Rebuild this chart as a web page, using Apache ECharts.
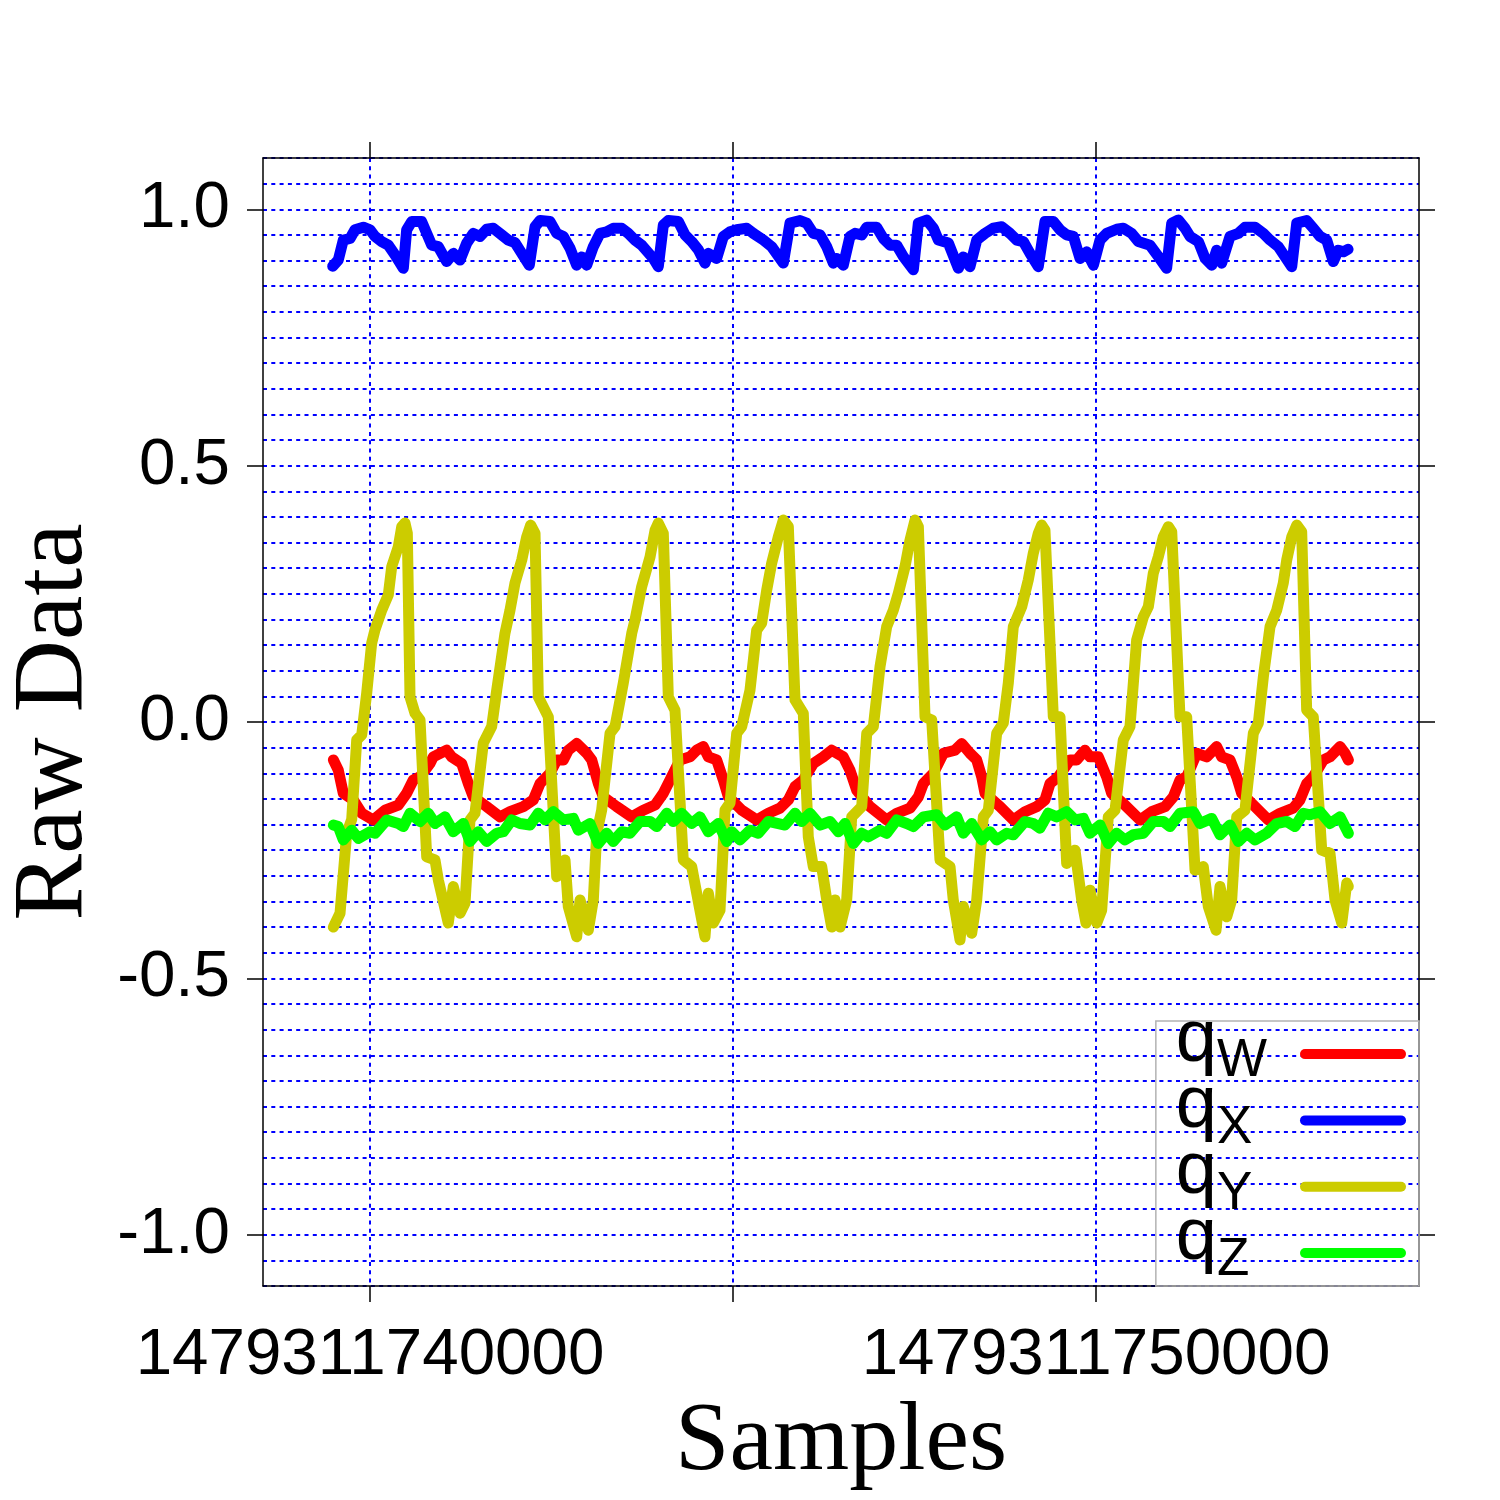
<!DOCTYPE html>
<html><head><meta charset="utf-8">
<script src="https://cdn.jsdelivr.net/npm/echarts@6/dist/echarts.min.js"></script>
<style>html,body{margin:0;padding:0;background:#fff}#c{width:1500px;height:1500px}</style>
</head><body><div id="c"></div>
<script>
// time base (ms) and per-series sample times (ms offsets from T0)
const T0 = 1479311740000;
const X_MIN = 1479311738526;
const X_MAX = 1479311754449;
const xTickValues = [1479311740000, 1479311745000, 1479311750000];
const xLabelValues = [1479311740000, 1479311750000];
const xLabelTexts = ['1479311740000', '1479311750000'];
const yTickValues = [-1.0, -0.5, 0.0, 0.5, 1.0];
const yLabelTexts = ['-1.0', '-0.5', '0.0', '0.5', '1.0'];

const seriesNames = ['qW', 'qX', 'qY', 'qZ'];
const legendMain = ['q', 'q', 'q', 'q'];
const legendSub = ['W', 'X', 'Y', 'Z'];
const seriesColors = ['#ff0000', '#0000ff', '#cccc00', '#00ff00'];

const qwT = [-505,-437,-368,-230,-114,45,207,390,505,596,
 689,826,872,1056,1125,1263,1354,1423,1607,1791,
 1928,2112,2249,2342,2479,2572,2663,2731,2847,2985,
 3054,3145,3214,3398,3605,3764,3926,4040,4132,4270,
 4408,4500,4591,4660,4775,4867,4936,5120,5326,5486,
 5647,5762,5854,5968,6106,6244,6359,6519,6611,6704,
 6887,7117,7254,7438,7553,7622,7760,7898,8058,8150,
 8264,8357,8426,8471,8678,8861,9022,9183,9297,9366,
 9481,9642,9734,9848,9917,10032,10147,10216,10376,10606,
 10767,10951,11065,11157,11249,11387,11525,11662,11731,11846,
 11938,12007,12190,12373,12534,12717,12809,12902,12993,13131,
 13223,13361,13430,13476];
const qwV = [-0.074,-0.094,-0.139,-0.152,-0.178,-0.191,-0.172,-0.162,-0.139,-0.113,
 -0.107,-0.081,-0.068,-0.055,-0.068,-0.081,-0.120,-0.146,-0.165,-0.185,
 -0.175,-0.165,-0.152,-0.120,-0.100,-0.074,-0.074,-0.055,-0.042,-0.061,
 -0.074,-0.120,-0.146,-0.165,-0.185,-0.172,-0.162,-0.139,-0.113,-0.074,
 -0.068,-0.055,-0.048,-0.068,-0.074,-0.113,-0.146,-0.172,-0.191,-0.178,
 -0.168,-0.152,-0.126,-0.113,-0.081,-0.068,-0.055,-0.068,-0.094,-0.133,
 -0.165,-0.191,-0.178,-0.168,-0.146,-0.120,-0.100,-0.061,-0.055,-0.042,
 -0.061,-0.074,-0.107,-0.139,-0.165,-0.191,-0.175,-0.165,-0.152,-0.120,
 -0.107,-0.074,-0.074,-0.055,-0.068,-0.068,-0.107,-0.139,-0.159,-0.191,
 -0.175,-0.165,-0.146,-0.113,-0.107,-0.061,-0.068,-0.048,-0.068,-0.074,
 -0.107,-0.139,-0.165,-0.191,-0.178,-0.168,-0.152,-0.120,-0.107,-0.074,
 -0.068,-0.048,-0.061,-0.074];

const qxT = [-514,-437,-368,-275,-207,-92,0,69,161,252,
 344,459,505,574,712,781,850,941,1056,1147,
 1240,1332,1423,1515,1607,1698,1814,1905,1997,2090,
 2194,2273,2342,2479,2572,2663,2755,2847,2916,2985,
 3076,3168,3260,3351,3467,3558,3650,3742,3902,3971,
 4040,4109,4247,4339,4431,4522,4614,4660,4775,4867,
 4959,5051,5189,5280,5418,5533,5693,5785,5923,6015,
 6106,6199,6291,6382,6428,6519,6611,6681,6773,6842,
 6979,7071,7163,7254,7346,7484,7553,7668,7760,7829,
 7967,8104,8172,8264,8357,8471,8585,8701,8815,8908,
 8999,9091,9205,9297,9412,9504,9596,9688,9780,9872,
 9964,10055,10147,10285,10376,10491,10583,10744,10858,10973,
 11043,11134,11226,11295,11410,11503,11594,11662,11731,11846,
 11961,12052,12190,12305,12397,12512,12696,12765,12902,12993,
 13086,13178,13269,13338,13407,13472];
const qxV = [0.889,0.901,0.940,0.943,0.960,0.965,0.960,0.947,0.937,0.930,
 0.911,0.885,0.960,0.976,0.976,0.953,0.930,0.927,0.898,0.914,
 0.901,0.934,0.953,0.947,0.961,0.963,0.950,0.940,0.935,0.914,
 0.891,0.966,0.978,0.976,0.953,0.947,0.924,0.891,0.907,0.891,
 0.927,0.953,0.956,0.963,0.963,0.953,0.940,0.930,0.904,0.888,
 0.969,0.978,0.976,0.950,0.937,0.921,0.895,0.914,0.904,0.947,
 0.956,0.960,0.963,0.953,0.940,0.927,0.895,0.973,0.978,0.973,
 0.953,0.950,0.927,0.895,0.904,0.891,0.947,0.953,0.950,0.965,
 0.965,0.943,0.930,0.930,0.908,0.882,0.973,0.979,0.963,0.940,
 0.934,0.885,0.907,0.888,0.940,0.953,0.963,0.966,0.953,0.940,
 0.937,0.914,0.888,0.976,0.976,0.960,0.950,0.947,0.904,0.917,
 0.891,0.940,0.953,0.961,0.963,0.953,0.937,0.930,0.908,0.885,
 0.973,0.979,0.963,0.947,0.937,0.904,0.891,0.920,0.895,0.947,
 0.953,0.965,0.965,0.953,0.940,0.927,0.888,0.973,0.978,0.963,
 0.947,0.940,0.898,0.920,0.917,0.922];

const qyT = [-505,-413,-321,-252,-183,-114,-45,23,69,161,
 252,299,390,437,482,514,551,620,689,781,
 895,941,1078,1147,1240,1309,1377,1446,1561,1676,
 1745,1859,1928,1997,2090,2158,2213,2273,2318,2456,
 2525,2572,2686,2731,2847,2893,3007,3076,3123,3191,
 3306,3375,3489,3605,3650,3742,3857,3926,3971,4040,
 4109,4201,4315,4431,4500,4614,4660,4729,4821,4890,
 4959,5051,5120,5234,5326,5395,5464,5533,5624,5693,
 5762,5854,5968,6037,6106,6222,6291,6359,6405,6474,
 6566,6635,6773,6842,6933,7025,7117,7208,7277,7369,
 7438,7507,7553,7645,7737,7851,7989,8034,8127,8172,
 8288,8357,8448,8517,8632,8723,8792,8861,8977,9067,
 9136,9205,9252,9297,9412,9504,9596,9711,9803,9862,
 9917,10010,10078,10169,10262,10376,10468,10560,10652,10721,
 10789,10858,10927,10996,11043,11157,11249,11364,11478,11547,
 11653,11708,11800,11869,11938,12052,12167,12236,12305,12397,
 12489,12580,12627,12696,12765,12833,12902,12993,13109,13223,
 13292,13385,13454,13476];
const qyV = [-0.400,-0.373,-0.217,-0.190,-0.035,-0.025,0.057,0.154,0.180,0.218,
 0.248,0.303,0.342,0.381,0.388,0.368,0.049,0.017,0.004,-0.263,
 -0.269,-0.308,-0.392,-0.321,-0.373,-0.353,-0.191,-0.178,-0.041,-0.009,
 0.062,0.173,0.218,0.271,0.316,0.361,0.384,0.368,0.049,0.010,
 -0.178,-0.302,-0.269,-0.360,-0.419,-0.347,-0.406,-0.347,-0.217,-0.172,
 -0.022,-0.009,0.076,0.173,0.199,0.264,0.322,0.374,0.388,0.368,
 0.049,0.023,-0.269,-0.282,-0.334,-0.419,-0.334,-0.392,-0.367,-0.172,
 -0.158,-0.022,-0.009,0.062,0.179,0.193,0.257,0.310,0.361,0.394,
 0.381,0.043,0.017,-0.224,-0.282,-0.282,-0.347,-0.400,-0.347,-0.400,
 -0.347,-0.185,-0.165,-0.022,-0.009,0.108,0.186,0.218,0.251,0.303,
 0.355,0.394,0.381,0.010,0.004,-0.269,-0.282,-0.347,-0.425,-0.360,
 -0.412,-0.347,-0.185,-0.172,-0.022,-0.002,0.076,0.186,0.225,0.277,
 0.329,0.368,0.384,0.374,0.010,0.010,-0.276,-0.250,-0.347,-0.392,
 -0.328,-0.392,-0.367,-0.185,-0.172,-0.035,-0.009,0.160,0.205,0.225,
 0.290,0.322,0.361,0.381,0.371,0.010,0.010,-0.289,-0.282,-0.360,
 -0.406,-0.321,-0.380,-0.347,-0.185,-0.172,-0.022,-0.002,0.088,0.186,
 0.218,0.271,0.316,0.361,0.384,0.371,0.023,0.010,-0.250,-0.256,
 -0.347,-0.392,-0.314,-0.321];

const qzT = [-505,-437,-368,-252,-161,0,69,230,390,459,
 551,689,803,895,1033,1147,1285,1377,1492,1607,
 1745,1836,1952,2066,2204,2318,2410,2525,2663,2800,
 2869,3030,3145,3260,3351,3467,3581,3719,3857,3949,
 4087,4178,4293,4431,4545,4660,4798,4913,4982,5096,
 5234,5349,5486,5716,5854,5946,6061,6199,6336,6451,
 6543,6658,6773,6865,7025,7117,7254,7392,7484,7622,
 7806,7920,8081,8172,8288,8426,8540,8632,8770,8861,
 9022,9136,9228,9343,9458,9596,9711,9826,9917,10055,
 10169,10284,10399,10514,10652,10789,10927,11019,11157,11341,
 11433,11594,11708,11846,11961,12076,12190,12351,12489,12627,
 12740,12856,12948,13086,13223,13361,13476];
const qzV = [-0.201,-0.204,-0.230,-0.211,-0.227,-0.214,-0.217,-0.191,-0.198,-0.204,
 -0.178,-0.194,-0.178,-0.198,-0.185,-0.214,-0.198,-0.233,-0.214,-0.233,
 -0.217,-0.214,-0.191,-0.198,-0.201,-0.178,-0.191,-0.175,-0.191,-0.188,
 -0.211,-0.198,-0.237,-0.217,-0.233,-0.214,-0.217,-0.194,-0.194,-0.204,
 -0.178,-0.194,-0.178,-0.198,-0.185,-0.214,-0.198,-0.233,-0.214,-0.230,
 -0.211,-0.217,-0.194,-0.201,-0.178,-0.194,-0.178,-0.201,-0.194,-0.214,
 -0.198,-0.237,-0.217,-0.224,-0.211,-0.217,-0.191,-0.198,-0.204,-0.185,
 -0.181,-0.201,-0.185,-0.217,-0.198,-0.230,-0.214,-0.230,-0.217,-0.220,
 -0.194,-0.198,-0.207,-0.178,-0.185,-0.175,-0.191,-0.188,-0.217,-0.201,
 -0.237,-0.217,-0.230,-0.220,-0.217,-0.194,-0.194,-0.204,-0.178,-0.175,
 -0.198,-0.188,-0.220,-0.201,-0.233,-0.217,-0.230,-0.217,-0.198,-0.194,
 -0.204,-0.178,-0.181,-0.175,-0.198,-0.185,-0.217];

const seriesT = [qwT, qxT, qyT, qzT];
const seriesV = [qwV, qxV, qyV, qzV];

const chart = echarts.init(document.getElementById('c'), null, {renderer: 'canvas'});
const pair = (T, V) => T.slice(0, Math.min(T.length, V.length)).map((t, i) => [T0 + t, V[i]]);
const gridLine = {color: '#0000ff', width: 2, type: [4, 4.3]};
const black = {color: '#000', width: 1.5};
const sans = 'Liberation Sans, Arial, Helvetica, sans-serif';
const serif = 'Liberation Serif, Times New Roman, serif';
const findText = (vals, texts, v, tol) => {
  for (let i = 0; i < vals.length; i++) if (Math.abs(vals[i] - v) < tol) return texts[i];
  return '';
};

const option = {
  animation: false,
  backgroundColor: '#ffffff',
  grid: {left: 263, top: 158, width: 1156, height: 1128, containLabel: false, outerBoundsMode: 'none'},
  xAxis: [
    {
      type: 'value', position: 'bottom', min: X_MIN, max: X_MAX, scale: true,
      axisLine: {show: true, onZero: false, lineStyle: black},
      axisTick: {show: true, inside: false, length: 16, customValues: xTickValues, lineStyle: black},
      axisLabel: {show: true, customValues: xLabelValues, formatter: v => findText(xLabelValues, xLabelTexts, v, 0.5),
        fontFamily: sans, fontSize: 65.5, color: '#000', margin: 37},
      splitLine: {show: true, lineStyle: gridLine},
      name: 'Samples', nameLocation: 'middle', nameGap: 91,
      nameTextStyle: {fontFamily: serif, fontSize: 98, color: '#000'}
    },
    {
      type: 'value', position: 'top', min: X_MIN, max: X_MAX, scale: true,
      axisLine: {show: true, onZero: false, lineStyle: black},
      axisTick: {show: true, inside: false, length: 16, customValues: xTickValues, lineStyle: black},
      axisLabel: {show: false},
      splitLine: {show: false}
    }
  ],
  yAxis: [
    {
      type: 'value', position: 'left', min: -1.1, max: 1.1,
      axisLine: {show: true, onZero: false, lineStyle: black},
      axisTick: {show: true, inside: false, length: 16, customValues: yTickValues, lineStyle: black},
      axisLabel: {show: true, customValues: yTickValues, formatter: v => findText(yTickValues, yLabelTexts, v, 1e-6),
        fontFamily: sans, fontSize: 65.5, color: '#000', margin: 33},
      splitLine: {show: false},
      name: 'Raw Data', nameLocation: 'middle', nameGap: 158,
      nameTextStyle: {fontFamily: serif, fontSize: 100, color: '#000'}
    },
    {
      type: 'value', position: 'right', min: -1.1, max: 1.1,
      axisLine: {show: true, onZero: false, lineStyle: black},
      axisTick: {show: true, inside: false, length: 16, customValues: yTickValues, lineStyle: black},
      axisLabel: {show: false},
      splitLine: {show: false}
    },
    {
      type: 'value', position: 'left', min: -1.1, max: 1.1, interval: 0.05,
      axisLine: {show: false}, axisTick: {show: false}, axisLabel: {show: false},
      splitLine: {show: true, lineStyle: gridLine}
    }
  ],
  legend: {
    orient: 'vertical', right: 81, bottom: 214, align: 'right',
    padding: [-18, 13, -18, 20], itemGap: -35.7, itemWidth: 106, itemHeight: 10,
    icon: 'path://M5,0L101,0A5,5,0,0,1,101,10L5,10A5,5,0,0,1,5,0Z',
    borderColor: '#b3b3b3', borderWidth: 1.5, backgroundColor: 'transparent',
    itemStyle: {borderWidth: 0},
    selectedMode: false,
    data: seriesNames,
    formatter: name => {
      const i = seriesNames.indexOf(name);
      return '{q|' + legendMain[i] + '}{s|' + legendSub[i] + '}\u200b';
    },
    textStyle: {
      fontFamily: sans, fontSize: 53, lineHeight: 85, color: '#000',
      padding: [0, 0, 17, 0],
      rich: {
        q: {fontFamily: sans, fontSize: 74, verticalAlign: 'top', align: 'left', color: '#000'},
        s: {fontFamily: sans, fontSize: 53, verticalAlign: 'bottom', width: 78, align: 'left', color: '#000'}
      }
    }
  },
  series: seriesNames.map((name, k) => ({
    name: name, type: 'line', xAxisIndex: 0, yAxisIndex: 0,
    data: pair(seriesT[k], seriesV[k]),
    showSymbol: false, symbol: 'none', smooth: false,
    color: seriesColors[k],
    itemStyle: {color: seriesColors[k]},
    lineStyle: {color: seriesColors[k], width: 11, cap: 'round', join: 'round'},
    z: 2 + k
  }))
};
chart.setOption(option);
</script>
</body></html>
